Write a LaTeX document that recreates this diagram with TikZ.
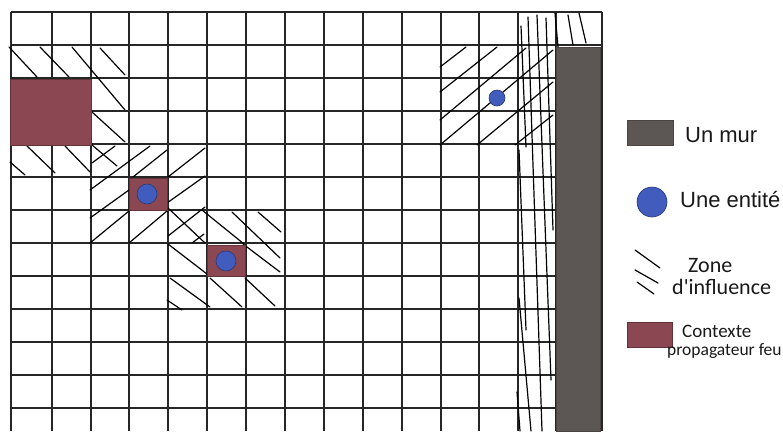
\documentclass[tikz,border=0pt]{standalone}
\usepackage{fontspec}
\setmainfont{Liberation Sans}
\newfontfamily\carlito{Carlito}
\usepackage{tikz}
\usetikzlibrary{positioning}
\definecolor{murgray}{RGB}{92,86,84}
\definecolor{feured}{RGB}{140,72,82}
\definecolor{entblue}{RGB}{66,92,190}

\begin{document}
\begin{tikzpicture}[
  x=1pt, y=-1pt,
  every node/.style={inner sep=0pt, anchor=base west},
  gl/.style={draw=black!85, line width=1.1pt},
  hl/.style={draw=black, line width=1.2pt, line cap=round},
  mur/.style={fill=murgray, draw=murgray!80!black, line width=0.6pt},
  feu/.style={fill=feured, draw=feured!70!black, line width=0.8pt},
  ent/.style={fill=entblue, draw=entblue!60!black, line width=0.6pt},
  lab/.style={font=\fontsize{22}{24}\selectfont, text=black!90},
  labc/.style={font=\carlito\fontsize{22}{24}\selectfont, text=black!90},
]
\useasboundingbox (0,0) rectangle (783,431);

% ---------- the grid ----------
\foreach \x in {11,52,91,129,168,207,246,285,324,363,402,441,479,518,556,602}
  \draw[gl] (\x,12) -- (\x,431);
\foreach \j in {0,...,12}
  \draw[gl] (11,{12+33*\j}) -- (602,{12+33*\j});

% ---------- zones of influence ----------
% round the fire block
\foreach \xa/\ya/\xb/\yb in {9/47/37/77, 40/47/69/77, 72/47/125/110, 100/48/125/75,
    92/112/125/142, 27/146/55/173, 65/146/90/172, 10/162/25/175, 92/145/117/166}
  \draw[hl] (\xa,\ya) -- (\xb,\yb);
% round the first entity
\foreach \xa/\ya/\xb/\yb in {92/163/115/146, 90/190/150/146, 133/177/167/150,
    168/177/205/148, 90/218/129/190, 90/243/129/211, 129/243/167/211,
    167/203/205/176, 168/236/205/207, 192/243/204/234}
  \draw[hl] (\xa,\ya) -- (\xb,\yb);
% round the second entity
\foreach \xa/\ya/\xb/\yb in {167/207/205/243, 202/210/244/244, 232/212/280/258,
    258/212/281/232, 168/244/207/274, 243/244/280/272, 170/278/210/307,
    210/278/242/307, 245/278/275/306, 167/300/182/310}
  \draw[hl] (\xa,\ya) -- (\xb,\yb);
% round the lone entity
\foreach \xa/\ya/\xb/\yb in {440/67/466/47, 440/92/497/47, 440/120/526/48,
    440/145/553/50, 477/145/553/82, 515/145/553/115}
  \draw[hl] (\xa,\ya) -- (\xb,\yb);
% along the wall
\foreach \xa/\ya/\xb/\yb in {521/26/526/147, 528/17/542/431, 537/15/551/380,
    546/18/553/230, 519/150/526/330, 519/298/531/431, 517/392/520/431,
    555/13/558/47, 568/15/573/45, 579/13/586/43}
  \draw[hl] (\xa,\ya) -- (\xb,\yb);

% ---------- wall, fire blocks, entities ----------
\draw[mur] (556,47) rectangle (600,431);
\draw[feu] (10,79) rectangle (91,145);
\draw[feu] (129,178) rectangle (167,210);
\draw[feu] (207,245) rectangle (245,276);
\draw[ent] (147,194) circle (10);
\draw[ent] (226,261) circle (10);
\draw[ent] (497,98) circle (8);

% ---------- legend ----------
\draw[mur] (627,120) rectangle (673,145);
\node[lab] (lmur) at (685,142) {Un mur};
\draw[ent] (652,202) circle (15);
\node[lab] (lent) at (680,207) {Une entité};
\foreach \xa/\ya/\xb/\yb in {635/250/660/268, 635/270/658/283, 637/282/654/294}
  \draw[hl] (\xa,\ya) -- (\xb,\yb);
\node[labc] (lzone) at (688,272) {Zone};
\node[labc] (linf) at (672,294) {d'influence};
\draw[feu] (627,322) rectangle (672,347);
\node[labc, font=\carlito\fontsize{19}{21}\selectfont] (lctx) at (682,337) {Contexte};
\node[labc, font=\carlito\fontsize{17.5}{20}\selectfont] (lprop) at (667,355)
  {propagateur feu};
\end{tikzpicture}
\end{document}
